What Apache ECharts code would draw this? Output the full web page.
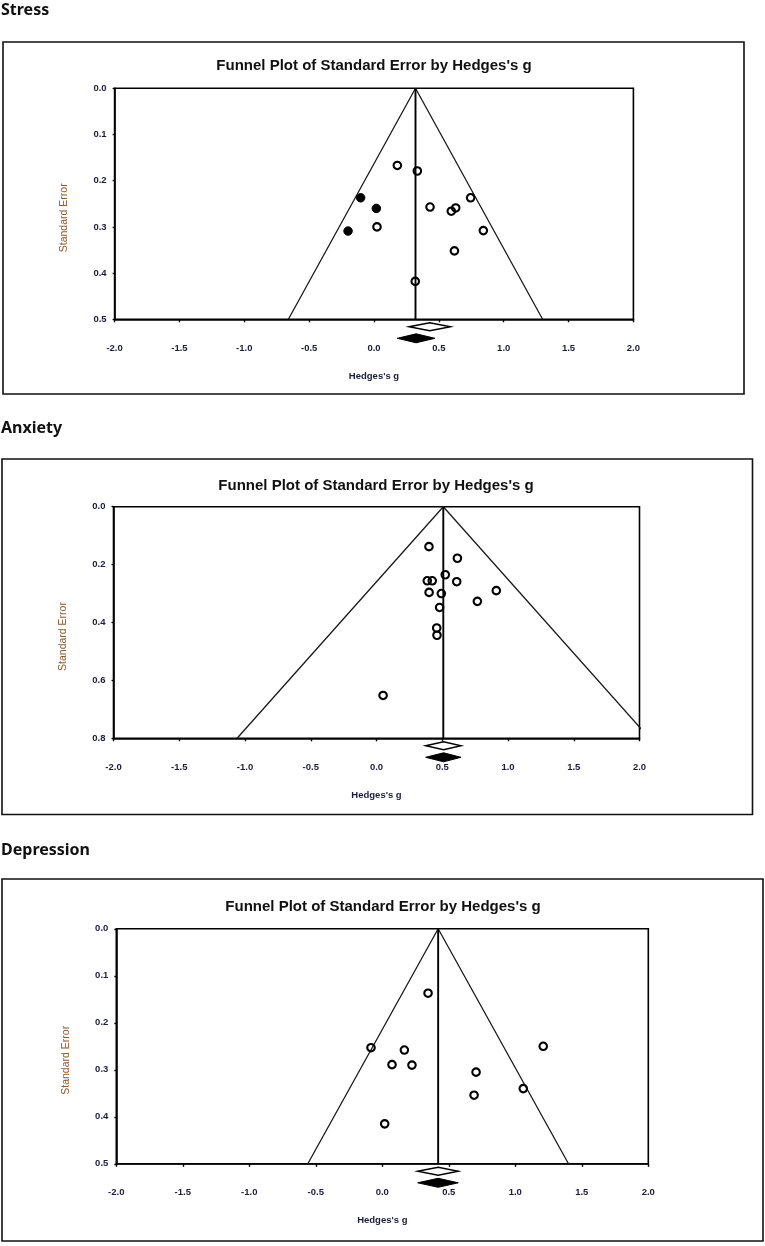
<!DOCTYPE html>
<html><head><meta charset="utf-8">
<script src="https://cdn.jsdelivr.net/npm/echarts@6/dist/echarts.min.js"></script>
<style>html,body{margin:0;padding:0;background:#fff}#c{width:765px;height:1246px}</style>
</head><body><div id="c"></div>
<script>
// ---------------- DATA ----------------
const panelNames = ['Stress', 'Anxiety', 'Depression'];
const chartTitle = "Funnel Plot of Standard Error by Hedges's g";
const xAxisName = "Hedges's g";
const yAxisName = 'Standard Error';
const xMin = -2.0, xMax = 2.0, xInterval = 0.5;
const seMax = [0.5, 0.8, 0.5];
const seInterval = [0.1, 0.2, 0.1];

// Stress: observed studies (open circles)
const stressObservedG  = [0.18, 0.334, 0.432, 0.596, 0.63, 0.745, 0.843, 0.023, 0.62, 0.318];
const stressObservedSE = [0.167, 0.179, 0.257, 0.266, 0.259, 0.237, 0.308, 0.300, 0.352, 0.418];
// Stress: imputed studies (filled circles)
const stressImputedG  = [-0.103, 0.018, -0.20];
const stressImputedSE = [0.237, 0.260, 0.309];

// Anxiety: observed studies
const anxietyObservedG  = [0.399, 0.615, 0.523, 0.386, 0.424, 0.61, 0.40, 0.493, 0.911, 0.767, 0.48, 0.458, 0.46, 0.05];
const anxietyObservedSE = [0.138, 0.178, 0.235, 0.256, 0.256, 0.259, 0.296, 0.300, 0.290, 0.327, 0.348, 0.419, 0.444, 0.652];
const anxietyImputedG = [];
const anxietyImputedSE = [];

// Depression: observed studies
const depressionObservedG  = [0.344, -0.085, 0.166, 0.073, 0.223, 0.018, 0.705, 0.69, 1.06, 1.21];
const depressionObservedSE = [0.137, 0.253, 0.258, 0.289, 0.290, 0.415, 0.305, 0.354, 0.340, 0.250];
const depressionImputedG = [];
const depressionImputedSE = [];

// Summary effect (funnel apex / vertical line)
const summaryEffect = [0.32, 0.508, 0.42];
// Diamonds: [lower, estimate, upper]
const observedDiamond = [[0.27, 0.43, 0.59], [0.374, 0.51, 0.643], [0.266, 0.42, 0.571]];
const adjustedDiamond = [[0.18, 0.325, 0.47], [0.374, 0.51, 0.643], [0.266, 0.42, 0.571]];
const zCrit = 1.96;

// ---------------- LAYOUT ----------------
const grids = [
  {left: 114.6, right: 765 - 633.4, top: 88.3, height: 231},
  {left: 113.5, right: 765 - 639.5, top: 506.7, height: 231.6},
  {left: 116.3, right: 765 - 648.3, top: 928.8, height: 235}
];
const boxes = [
  {x: 3, y: 42, w: 741, h: 352},
  {x: 2, y: 459, w: 750.5, h: 355.5},
  {x: 2, y: 879, w: 761, h: 362}
];
const headingTops = [2, 420, 842];
const titleCenters = [[374, 66.7], [376, 486.7], [383, 907.7]];

const obsG = [stressObservedG, anxietyObservedG, depressionObservedG];
const obsSE = [stressObservedSE, anxietyObservedSE, depressionObservedSE];
const impG = [stressImputedG, anxietyImputedG, depressionImputedG];
const impSE = [stressImputedSE, anxietyImputedSE, depressionImputedSE];

const labelColor = '#1c1c3a';
const fmt = v => v.toFixed(1);

const option = {
  animation: false,
  backgroundColor: '#fff',
  title: [],
  grid: [], xAxis: [], yAxis: [], series: [],
  graphic: []
};

panelNames.forEach((name, i) => {
  option.title.push({
    text: name, left: 1, top: headingTops[i], padding: 0,
    textStyle: {fontFamily: 'Noto Sans', fontWeight: 'bold', fontSize: 16, color: '#111'}
  });
  option.title.push({
    text: chartTitle, left: titleCenters[i][0], top: titleCenters[i][1] - 8, padding: 0,
    textAlign: 'center',
    textStyle: {fontFamily: 'Liberation Sans', fontWeight: 'bold', fontSize: 15, color: '#111'}
  });
  option.graphic.push({
    type: 'rect', shape: {x: boxes[i].x, y: boxes[i].y, width: boxes[i].w, height: boxes[i].h},
    style: {fill: 'none', stroke: '#111', lineWidth: 1.6}, silent: true
  });
  option.grid.push(Object.assign({show: true, borderColor: '#000', borderWidth: 1.6, backgroundColor: 'transparent'}, grids[i]));
  option.xAxis.push({
    type: 'value', gridIndex: i, min: xMin, max: xMax, interval: xInterval,
    name: xAxisName, nameLocation: 'middle', nameGap: 52,
    nameTextStyle: {fontFamily: 'Liberation Sans', fontWeight: 'bold', fontSize: 9.5, color: labelColor},
    axisLine: {show: true, onZero: false, lineStyle: {color: '#000', width: 1.6}},
    axisTick: {show: true, length: 3, lineStyle: {color: '#000', width: 1.4}},
    axisLabel: {formatter: fmt, margin: 24, fontFamily: 'Liberation Sans', fontWeight: 'bold', fontSize: 9.5, color: labelColor},
    splitLine: {show: false}
  });
  option.yAxis.push({
    type: 'value', gridIndex: i, min: 0, max: seMax[i], interval: seInterval[i], inverse: true,
    name: yAxisName, nameLocation: 'middle', nameGap: 45,
    nameTextStyle: {fontFamily: 'Liberation Sans', fontSize: 10.5, color: '#8e5a2c', padding: [0, 28, 0, 0]},
    axisLine: {show: true, onZero: false, lineStyle: {color: '#000', width: 1.6}},
    axisTick: {show: true, length: 2, lineStyle: {color: '#000', width: 1.4}},
    axisLabel: {formatter: fmt, margin: 8, fontFamily: 'Liberation Sans', fontWeight: 'bold', fontSize: 9.5, color: labelColor},
    splitLine: {show: false}
  });

  const c = summaryEffect[i], m = seMax[i];
  // funnel (pseudo 95% limits)
  option.series.push({
    type: 'line', xAxisIndex: i, yAxisIndex: i, clip: true, silent: true, symbol: 'none',
    data: [[c - zCrit * m, m], [c, 0], [c + zCrit * m, m]],
    lineStyle: {color: '#1a1a1a', width: 1.3}, z: 2
  });
  // vertical summary line
  option.series.push({
    type: 'line', xAxisIndex: i, yAxisIndex: i, clip: true, silent: true, symbol: 'none',
    data: [[c, 0], [c, m]],
    lineStyle: {color: '#000', width: 1.9}, z: 2
  });
  // observed studies
  option.series.push({
    type: 'scatter', xAxisIndex: i, yAxisIndex: i, symbol: 'circle', symbolSize: 7.5,
    data: obsG[i].map((g, k) => [g, obsSE[i][k]]),
    itemStyle: {color: 'rgba(255,255,255,0)', borderColor: '#000', borderWidth: 2.1, opacity: 1}, z: 5
  });
  // imputed studies
  if (impG[i].length) {
    option.series.push({
      type: 'scatter', xAxisIndex: i, yAxisIndex: i, symbol: 'circle', symbolSize: 8.5,
      data: impG[i].map((g, k) => [g, impSE[i][k]]),
      itemStyle: {color: '#000', borderColor: '#000', borderWidth: 1, opacity: 1}, z: 5
    });
  }
  // diamonds below the axis
  option.series.push({
    type: 'custom', xAxisIndex: i, yAxisIndex: i, clip: false, silent: true, z: 6,
    data: [
      [observedDiamond[i][1], m, observedDiamond[i][0], observedDiamond[i][2], 0],
      [adjustedDiamond[i][1], m, adjustedDiamond[i][0], adjustedDiamond[i][2], 1]
    ],
    renderItem: (params, api) => {
      const est = api.value(0), lo = api.value(2), hi = api.value(3), kind = api.value(4);
      const pe = api.coord([est, m]);
      const pl = api.coord([lo, m]);
      const ph = api.coord([hi, m]);
      const y0 = pe[1] + (kind === 0 ? 7.5 : 19);
      const h = kind === 0 ? 4 : 4.5;
      return {
        type: 'polygon',
        shape: {points: [[pl[0], y0], [pe[0], y0 - h], [ph[0], y0], [pe[0], y0 + h]]},
        style: kind === 0 ? {fill: '#fff', stroke: '#000', lineWidth: 1.4} : {fill: '#000', stroke: '#000', lineWidth: 1}
      };
    }
  });
});

const chart = echarts.init(document.getElementById('c'), null, {renderer: 'canvas'});
chart.setOption(option);
</script>
</body></html>
